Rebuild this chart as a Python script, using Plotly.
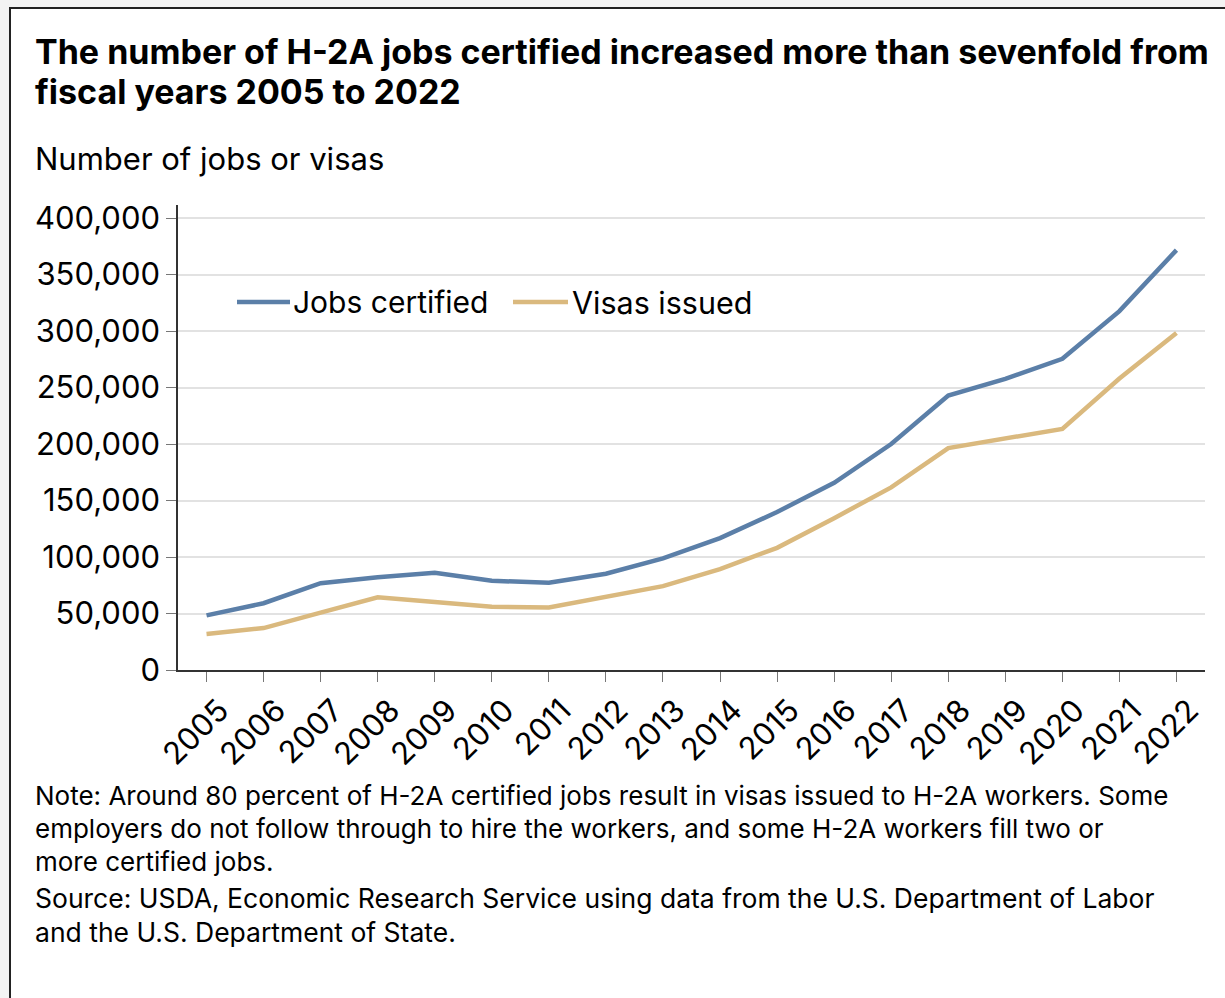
import plotly.graph_objects as go

# Fiscal years and series
years = [str(y) for y in range(2005, 2023)]
jobs_certified = [48300, 59100, 76800, 82100, 86000, 79000, 77200, 85200, 98800,
                  116700, 139800, 165700, 200000, 242800, 257700, 275400, 317600, 371600]
visas_issued = [31900, 37100, 50800, 64400, 60100, 55900, 55400, 65300, 74200,
                89300, 108100, 134400, 161600, 196400, 204800, 213400, 257900, 298300]
y_ticks = [0, 50000, 100000, 150000, 200000, 250000, 300000, 350000, 400000]

BLUE = "#5b7fa8"
TAN = "#dab97e"
FONT = "Inter"

W, H = 1225, 998
L, R, T, B = 178, 20, 205, 328
PW, PH = W - L - R, H - T - B


def px(x):
    return (x - L) / PW


def py(y):
    return (H - B - y) / PH


fig = go.Figure()
fig.add_trace(go.Scatter(x=years, y=jobs_certified, mode="lines", name="Jobs certified",
                         line=dict(color=BLUE, width=4.5), showlegend=False))
fig.add_trace(go.Scatter(x=years, y=visas_issued, mode="lines", name="Visas issued",
                         line=dict(color=TAN, width=4.5), showlegend=False))

shapes = [
    # framed card
    dict(type="rect", xref="paper", yref="paper", x0=px(10), x1=px(W + 20),
         y0=py(H + 20), y1=py(8), line=dict(color="#222222", width=2),
         fillcolor="white", layer="below"),
    # legend samples
    dict(type="line", xref="paper", yref="paper", x0=px(237), x1=px(290),
         y0=py(302), y1=py(302), line=dict(color=BLUE, width=4.5)),
    dict(type="line", xref="paper", yref="paper", x0=px(513), x1=px(568),
         y0=py(302), y1=py(302), line=dict(color=TAN, width=4.5)),
]

ann = []


def text(x, y, s, size, bold=False):
    ann.append(dict(xref="paper", yref="paper", x=px(x), y=py(y), text=s,
                    showarrow=False, xanchor="left", yanchor="middle", align="left",
                    font=dict(family=FONT, size=size, color="#000000",
                              weight=700 if bold else 400)))


text(33, 52, "The number of H-2A jobs certified increased more than sevenfold from", 34, True)
text(33, 91, "fiscal years 2005 to 2022", 34, True)
text(33, 158, "Number of jobs or visas", 31)
text(291, 302, "Jobs certified", 30)
text(570, 302, "Visas issued", 30.5)
text(33, 795, "Note: Around 80 percent of H-2A certified jobs result in visas issued to H-2A workers. Some", 26)
text(33, 828, "employers do not follow through to hire the workers, and some H-2A workers fill two or", 26)
text(33, 861, "more certified jobs.", 26)
text(33, 898, "Source: USDA, Economic Research Service using data from the U.S. Department of Labor", 26.5)
text(33, 932, "and the U.S. Department of State.", 26.5)

fig.update_layout(
    width=W, height=H,
    margin=dict(l=L, r=R, t=T, b=B, pad=0),
    paper_bgcolor="#f3f3f3",
    plot_bgcolor="white",
    shapes=shapes,
    annotations=ann,
    font=dict(family=FONT, color="#000000"),
    xaxis=dict(
        type="category", range=[-0.5, len(years) - 0.5],
        tickangle=-45, tickfont=dict(size=31, color="#000000"),
        ticklabelshift=13, ticklabelstandoff=-2,
        showline=True, linecolor="#333333", linewidth=1.5,
        ticks="outside", ticklen=10, tickcolor="#777777", tickwidth=1,
        showgrid=False, zeroline=False,
    ),
    yaxis=dict(
        range=[0, 411500], tickvals=y_ticks, tickformat=",",
        tickfont=dict(size=31, color="#000000"),
        showline=True, linecolor="#333333", linewidth=1.5,
        ticks="outside", ticklen=10, tickcolor="#777777", tickwidth=1,
        showgrid=True, gridcolor="#e2e2e2", gridwidth=1.5, zeroline=False,
    ),
)

fig.write_html("out.html")
